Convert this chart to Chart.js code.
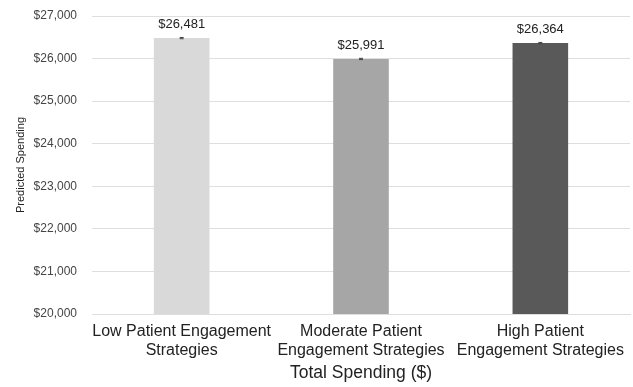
<!DOCTYPE html>
<html>
<head>
<meta charset="utf-8">
<script src="https://cdn.jsdelivr.net/npm/chart.js@4"></script>
<style>
  html, body { margin: 0; padding: 0; background: #fff; }
  #wrap { width: 633px; height: 387px; }
</style>
</head>
<body>
<div id="wrap"><canvas id="spendChart" width="633" height="387"></canvas></div>
<script>
// 값 데이터
const categories = [
    ["Low Patient Engagement", "Strategies"],
    ["Moderate Patient", "Engagement Strategies"],
    ["High Patient", "Engagement Strategies"]
];
const spending = [26481, 25991, 26364];
const errors = [15, 15, 15];
const barColors = ["#d9d9d9", "#a6a6a6", "#595959"];
const yTicks = [20000, 21000, 22000, 23000, 24000, 25000, 26000, 27000];

const FONT = "'Liberation Sans', Arial, sans-serif";

function money(v) {
    return "$" + v.toLocaleString("en-US");
}

// 막대 위 값 표시 + 작은 오차 막대
const barLabels = {
    id: "barLabels",
    afterDatasetsDraw(chart) {
        const ctx = chart.ctx;
        const meta = chart.getDatasetMeta(0);
        const y = chart.scales.y;
        ctx.save();
        meta.data.forEach((bar, i) => {
            const v = spending[i];
            const top = y.getPixelForValue(v + errors[i]);
            const bot = y.getPixelForValue(v - errors[i]);
            ctx.strokeStyle = "#444";
            ctx.lineWidth = 1;
            ctx.beginPath();
            ctx.moveTo(bar.x, top);
            ctx.lineTo(bar.x, bot);
            ctx.moveTo(bar.x - 2, top);
            ctx.lineTo(bar.x + 2, top);
            ctx.moveTo(bar.x - 2, bot);
            ctx.lineTo(bar.x + 2, bot);
            ctx.stroke();

            ctx.fillStyle = "#222";
            ctx.font = "13px " + FONT;
            ctx.textAlign = "center";
            ctx.textBaseline = "bottom";
            ctx.fillText(money(v), bar.x, y.getPixelForValue(v) - 7);
        });
        ctx.restore();
    }
};

new Chart(document.getElementById("spendChart"), {
    type: "bar",
    data: {
        labels: categories,
        datasets: [{
            data: spending,
            backgroundColor: barColors,
            borderWidth: 0,
            barPercentage: 0.31,
            categoryPercentage: 1
        }]
    },
    options: {
        responsive: false,
        animation: false,
        layout: { padding: { top: 16, right: 3, left: 14, bottom: 0 } },
        plugins: {
            legend: { display: false },
            tooltip: { enabled: false }
        },
        scales: {
            y: {
                min: 20000,
                max: 27000,
                afterBuildTicks(axis) {
                    axis.ticks = yTicks.map(v => ({ value: v }));
                },
                afterFit(axis) {
                    axis.width = 78;
                    axis.paddingTop = 0;
                    axis.paddingBottom = 0;
                },
                ticks: {
                    color: "#444",
                    font: { size: 12, family: FONT },
                    padding: 15,
                    callback: v => money(v)
                },
                grid: { color: "#dedede", drawTicks: false },
                border: { display: false },
                title: {
                    display: true,
                    text: "Predicted Spending",
                    color: "#222",
                    font: { size: 11, family: FONT },
                    padding: { top: 0, bottom: 6 }
                }
            },
            x: {
                afterFit(axis) {
                    axis.height = 73;
                },
                ticks: {
                    color: "#222",
                    font: { size: 16, family: FONT, lineHeight: 1.2 },
                    padding: 8,
                    maxRotation: 0,
                    autoSkip: false
                },
                grid: { display: false, drawTicks: false },
                border: { color: "#dedede" },
                title: {
                    display: true,
                    text: "Total Spending ($)",
                    color: "#222",
                    font: { size: 17.5, family: FONT },
                    padding: { top: 2, bottom: 3 }
                }
            }
        }
    },
    plugins: [barLabels]
});
</script>
</body>
</html>
